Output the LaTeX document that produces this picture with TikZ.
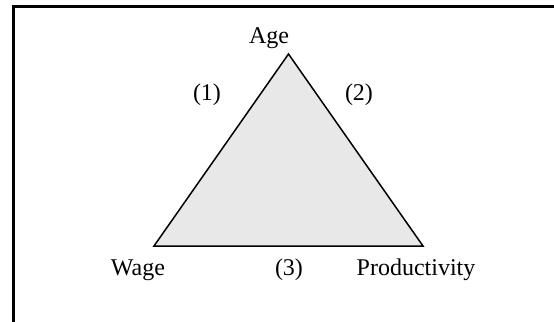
\documentclass[tikz,border=0pt]{standalone}
\usepackage{fontspec}
\setmainfont{Liberation Serif}
\begin{document}
\begin{tikzpicture}[x=0.5pt, y=-0.5pt, font=\fontsize{12}{14}\selectfont]

  \useasboundingbox (0,0) rectangle (554,322);

  % -------------------------
  % Kader
  % -------------------------
  \draw[line width=1.5pt] (13.5,322) -- (13.5,6.5) -- (554,6.5);

  % -------------------------
  % Driehoek
  % -------------------------
  \coordinate (top) at (288.5,54);
  \coordinate (left) at (154,246);
  \coordinate (right) at (423,246);

  \filldraw[fill=black!9, line width=0.75pt, line join=miter]
    (top) -- (left) -- (right) -- cycle;

  % -------------------------
  % Labels
  % -------------------------
  \node (age) at (269,38) {Age};
  \node (wage) at (138,270) {Wage};
  \node (prod) at (416,270) {Productivity};

  \node (one) at (207,95) {(1)};
  \node (two) at (359,95) {(2)};
  \node (three) at (289,270) {(3)};

\end{tikzpicture}
\end{document}
